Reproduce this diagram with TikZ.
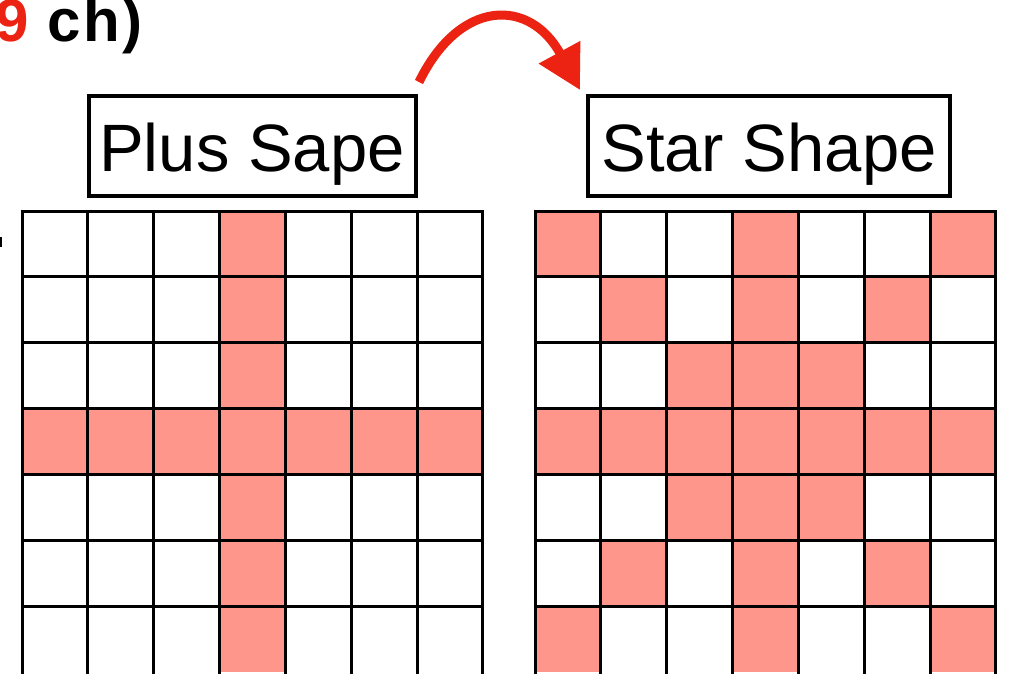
\documentclass[tikz,border=0pt]{standalone}
\usepackage{fontspec}
\setmainfont{Liberation Sans}
\usetikzlibrary{arrows.meta}
\definecolor{salmon}{RGB}{255,150,140}
\definecolor{arrowred}{RGB}{236,34,18}
\begin{document}
\begin{tikzpicture}[x=1pt,y=-1pt,
  gridline/.style={line width=3pt},
  cell/.style={fill=salmon},
  labelbox/.style={draw,line width=4pt,minimum height=100pt,inner sep=0pt,
    font=\fontsize{67}{80}\selectfont,text height=50pt,text depth=0pt},
  redarrow/.style={draw=arrowred,line width=9pt,-{Triangle[length=43pt,width=45pt]}},
  titletext/.style={anchor=base east,inner sep=0pt,font=\fontsize{60}{72}\selectfont\bfseries}
]
\useasboundingbox (0,0) rectangle (1009,673);
\begin{scope}
\clip (0,0) rectangle (1009,673);
% title fragment
\node[titletext] (title) at (143,41) {\addfontfeature{LetterSpace=4}\textcolor{arrowred}{9} ch)};
\draw[line width=2pt] (1,237) -- (1,247);
% label boxes
\node[labelbox,minimum width=327pt] (plus) at (252,146) {Plus Sape};
\node[labelbox,minimum width=362pt] (star) at (769,146) {Star Shape};
% arrow
\coordinate (a1) at (419,82);
\coordinate (a2) at (580,90);
\draw[redarrow] (a1) .. controls (460,-2) and (530,-2) .. (a2);
% left grid (plus)
\def\st{65.85}
\begin{scope}[shift={(22,211)}]
  \foreach \r in {0,...,6} \fill[cell] (3*\st,\r*\st) rectangle (4*\st,\r*\st+\st);
  \foreach \c in {0,...,6} \fill[cell] (\c*\st,3*\st) rectangle (\c*\st+\st,4*\st);
  \foreach \i in {0,...,7} \draw[gridline] (\i*\st,0) -- (\i*\st,500);
  \foreach \i in {0,...,6} \draw[gridline] (-1.5,\i*\st) -- (7*\st+1.5,\i*\st);
\end{scope}
% right grid (star)
\begin{scope}[shift={(535,211)}]
  \foreach \c/\r in {0/0,3/0,6/0,1/1,3/1,5/1,2/2,3/2,4/2,0/3,1/3,2/3,3/3,4/3,5/3,6/3,2/4,3/4,4/4,1/5,3/5,5/5,0/6,3/6,6/6}
    \fill[cell] (\c*\st,\r*\st) rectangle (\c*\st+\st,\r*\st+\st);
  \foreach \i in {0,...,7} \draw[gridline] (\i*\st,0) -- (\i*\st,500);
  \foreach \i in {0,...,6} \draw[gridline] (-1.5,\i*\st) -- (7*\st+1.5,\i*\st);
\end{scope}
\end{scope}
\end{tikzpicture}
\end{document}
